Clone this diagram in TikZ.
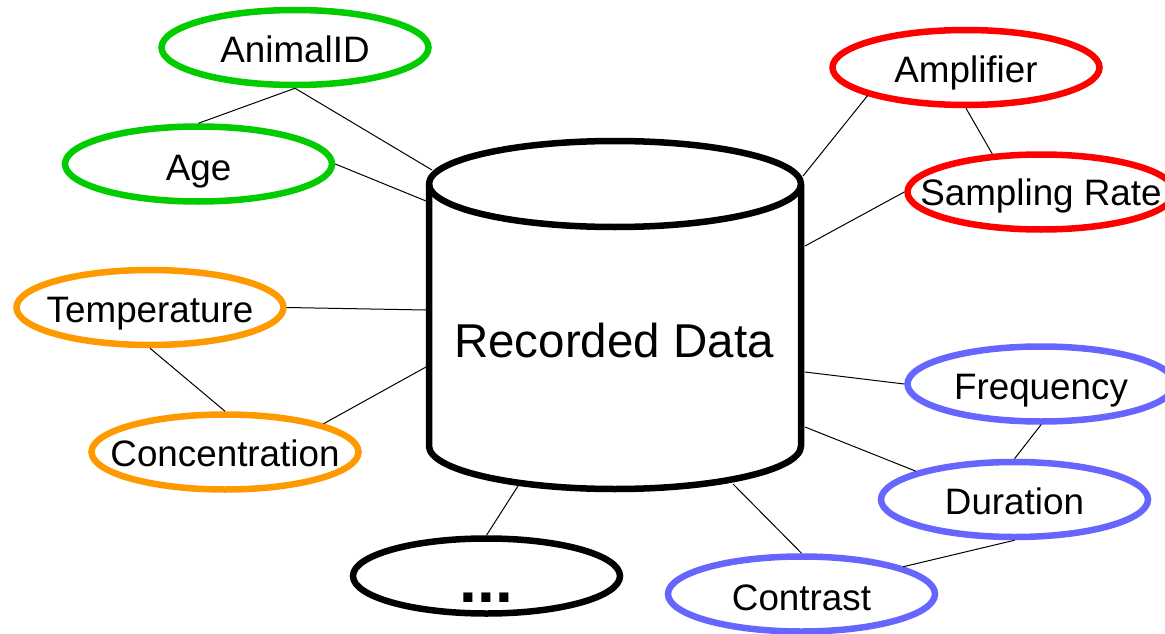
\documentclass[tikz,border=0pt]{standalone}
\usepackage{fontspec}
\setmainfont{Liberation Sans}
\usetikzlibrary{shapes.geometric}
\definecolor{cgreen}{RGB}{0,204,0}
\definecolor{cred}{RGB}{255,0,0}
\definecolor{corange}{RGB}{255,153,0}
\definecolor{cblue}{RGB}{102,102,255}
\tikzset{
  oval/.style={ellipse, draw=#1, line width=6.5pt, minimum width=267pt, minimum height=75pt, inner sep=0pt},
  lbl/.style={anchor=base, inner sep=0pt, font=\fontsize{36.8}{40}\selectfont},
  link/.style={line width=1pt, draw=black},
  cylline/.style={line width=6.5pt, draw=black, line join=round}
}
\begin{document}
\begin{tikzpicture}[x=1pt,y=1pt]
\useasboundingbox (0,0) rectangle (1165,-634);
\fill[white] (0,0) rectangle (1165,-634);

% cylinder
\draw[cylline] (429,-184) -- (429,-446) arc[start angle=180, end angle=360, x radius=186, y radius=43] -- (801,-184);
\draw[cylline] (615,-184) ellipse[x radius=186, y radius=43];
\node[anchor=base, inner sep=0pt, font=\fontsize{47.5}{50}\selectfont] (db) at (614,-357) {Recorded Data};

% contact points on the cylinder
\coordinate (c1) at (432,-170);
\coordinate (c2) at (426,-201);
\coordinate (c3) at (426,-310);
\coordinate (c4) at (426,-367);
\coordinate (c5) at (803,-176);
\coordinate (c6) at (805,-246);
\coordinate (c7) at (805,-372);
\coordinate (c8) at (805,-427);
\coordinate (c9) at (733,-484);
\coordinate (c10) at (518,-486);

% ellipses
\node[oval=cgreen] (animal) at (295,-47.5) {};
\node[oval=cgreen] (age) at (198.5,-164) {};
\node[oval=corange] (temp) at (150,-307.5) {};
\node[oval=corange] (conc) at (225,-452) {};
\node[oval=cred] (amp) at (966,-67.5) {};
\node[oval=cred] (samp) at (1041,-192) {};
\node[oval=cblue] (freq) at (1041,-384) {};
\node[oval=cblue] (dur) at (1014.5,-499.5) {};
\node[oval=cblue] (cont) at (801.5,-594) {};
\node[oval=black] (dots) at (486.5,-576) {};

% labels
\node[lbl] (lanimal) at ([yshift=-15.5pt]animal.center) {AnimalID};
\node[lbl] (lage) at ([yshift=-16pt]age.center) {Age};
\node[lbl] (ltemp) at ([yshift=-14.5pt]temp.center) {Temperature};
\node[lbl] (lconc) at ([yshift=-14pt]conc.center) {Concentration};
\node[lbl] (lamp) at ([yshift=-15.5pt]amp.center) {Amplifier};
\node[lbl] (lsamp) at ([yshift=-13pt]samp.center) {Sampling Rate};
\node[lbl] (lfreq) at ([yshift=-15pt]freq.center) {Frequency};
\node[lbl] (ldur) at ([yshift=-14.5pt]dur.center) {Duration};
\node[lbl] (lcont) at ([yshift=-16pt]cont.center) {Contrast};
\node[anchor=base, inner sep=0pt, font=\fontsize{64}{64}\selectfont\bfseries] (ldots) at ([yshift=-26pt]dots.center) {...};

% connectors
\draw[link] (animal.south) -- (c1);
\draw[link] (animal.south) -- (age.north);
\draw[link] (age.east) -- (c2);
\draw[link] (temp.east) -- (c3);
\draw[link] (temp.south) -- (conc.north);
\draw[link] (conc.16) -- (c4);
\draw[link] (amp.196) -- (c5);
\draw[link] (amp.south) -- (samp.142);
\draw[link] (samp.west) -- (c6);
\draw[link] (c7) -- (freq.west);
\draw[link] (freq.south) -- (dur.north);
\draw[link] (c8) -- (dur.164);
\draw[link] (dur.south) -- (cont.15);
\draw[link] (c9) -- (cont.north);
\draw[link] (c10) -- (dots.north);
\end{tikzpicture}
\end{document}
